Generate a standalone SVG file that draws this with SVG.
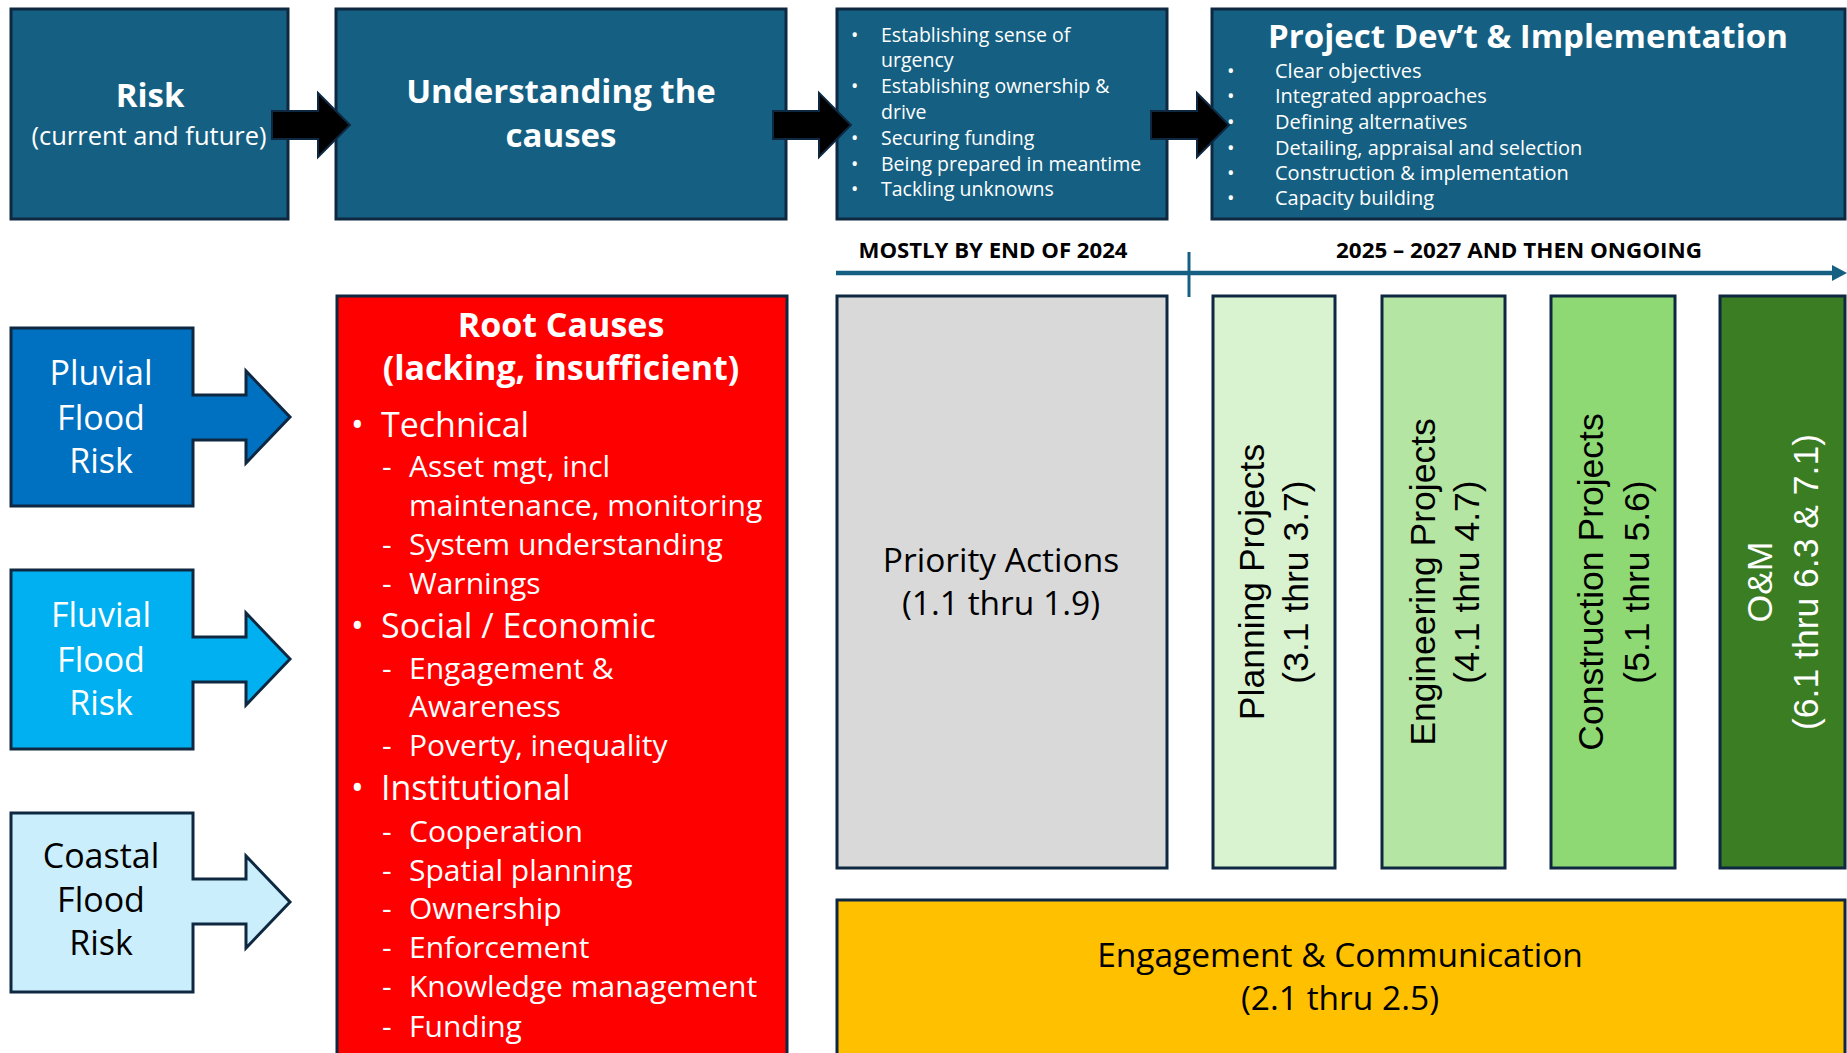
<svg xmlns="http://www.w3.org/2000/svg" width="1847" height="1053" viewBox="0 0 1847 1053">
  <style>
    text { font-family: "Open Sans", "Liberation Sans", sans-serif; }
    .edge { stroke: #0E2841; stroke-width: 3; }
    .top { fill: #156082; }
    .w { fill: #ffffff; }
    .k { fill: #000000; }
    .b { font-weight: 700; }
    .mid { text-anchor: middle; }
    .s19 { font-size: 19.5px; }
    .s20 { font-size: 20px; }
    .s30 { font-size: 30px; }
    .s33 { font-size: 33.5px; }
    .s34 { font-size: 34px; }
    .col { font-family: "Liberation Sans", Arial, sans-serif; font-size: 35.5px; text-anchor: middle; }
    .flow { fill: #000000; stroke: #0E2841; stroke-width: 2; }
    .axis { stroke: #156082; fill: none; }
  </style>
  <defs>
    <marker id="axis-head" markerUnits="userSpaceOnUse" markerWidth="16" markerHeight="18" refX="1" refY="9" orient="auto">
      <path d="M0,1 L15,9 L0,17 Z" fill="#156082"/>
    </marker>
  </defs>

  <rect width="1847" height="1053" fill="#ffffff"/>

  <!-- top process row -->
  <g id="risk">
    <rect class="top edge" x="11" y="9" width="277" height="210"/>
    <text class="w b mid" x="150" y="107" font-size="33">Risk</text>
    <text class="w mid" x="149" y="145" font-size="25.5">(current and future)</text>
  </g>

  <g id="understanding">
    <rect class="top edge" x="336" y="9" width="450" height="210"/>
    <text class="w b mid" x="561" y="103" font-size="33">Understanding the</text>
    <text class="w b mid" x="561" y="147" font-size="33">causes</text>
  </g>

  <g id="drivers" class="w s19">
    <rect class="top edge" x="837" y="9" width="330" height="210"/>
    <text x="851" y="42">•</text><text x="881" y="42">Establishing sense of</text>
    <text x="881" y="67">urgency</text>
    <text x="851" y="93">•</text><text x="881" y="93">Establishing ownership &amp;</text>
    <text x="881" y="119">drive</text>
    <text x="851" y="145">•</text><text x="881" y="145">Securing funding</text>
    <text x="851" y="171">•</text><text x="881" y="171">Being prepared in meantime</text>
    <text x="851" y="196">•</text><text x="881" y="196">Tackling unknowns</text>
  </g>

  <g id="project-dev" class="w">
    <rect class="top edge" x="1212" y="9" width="633" height="210"/>
    <text class="b mid" x="1528" y="48" font-size="33">Project Dev’t &amp; Implementation</text>
    <g class="s20">
      <text x="1227" y="78">•</text><text x="1275" y="78">Clear objectives</text>
      <text x="1227" y="103">•</text><text x="1275" y="103">Integrated approaches</text>
      <text x="1227" y="129">•</text><text x="1275" y="129">Defining alternatives</text>
      <text x="1227" y="155">•</text><text x="1275" y="155">Detailing, appraisal and selection</text>
      <text x="1227" y="180">•</text><text x="1275" y="180">Construction &amp; implementation</text>
      <text x="1227" y="205">•</text><text x="1275" y="205">Capacity building</text>
    </g>
  </g>

  <!-- flood risk sources -->
  <g id="pluvial">
    <path class="edge" fill="#0070C0" d="M11,328 H193 V395 H246 V371 L290,417 L246,463 V440 H193 V506 H11 Z"/>
    <text class="w mid s34" x="101" y="385">Pluvial</text>
    <text class="w mid s34" x="101" y="430">Flood</text>
    <text class="w mid s34" x="101" y="473">Risk</text>
  </g>

  <g id="fluvial">
    <path class="edge" fill="#00B0F0" d="M11,570 H193 V637 H246 V613 L290,659 L246,705 V682 H193 V749 H11 Z"/>
    <text class="w mid s34" x="101" y="627">Fluvial</text>
    <text class="w mid s34" x="101" y="672">Flood</text>
    <text class="w mid s34" x="101" y="715">Risk</text>
  </g>

  <g id="coastal">
    <path class="edge" fill="#CAEEFB" d="M11,813 H193 V879 H246 V856 L290,902 L246,948 V924 H193 V992 H11 Z"/>
    <text class="k mid s34" x="101" y="868">Coastal</text>
    <text class="k mid s34" x="101" y="912">Flood</text>
    <text class="k mid s34" x="101" y="955">Risk</text>
  </g>

  <!-- root causes list -->
  <g id="root-causes" class="w">
    <rect class="edge" fill="#FF0000" x="337" y="296" width="450" height="780"/>
    <text class="b mid s34" x="561" y="337">Root Causes</text>
    <text class="b mid s34" x="561" y="380">(lacking, insufficient)</text>
    <g class="s34">
      <text x="351" y="437">•</text><text x="381" y="437">Technical</text>
      <text x="351" y="638">•</text><text x="381" y="638">Social / Economic</text>
      <text x="351" y="800">•</text><text x="381" y="800">Institutional</text>
    </g>
    <g class="s30">
      <text x="382" y="477">-</text><text x="409" y="477">Asset mgt, incl</text>
      <text x="409" y="516">maintenance,  monitoring</text>
      <text x="382" y="555">-</text><text x="409" y="555">System understanding</text>
      <text x="382" y="594">-</text><text x="409" y="594">Warnings</text>
      <text x="382" y="679">-</text><text x="409" y="679">Engagement &amp;</text>
      <text x="409" y="717">Awareness</text>
      <text x="382" y="756">-</text><text x="409" y="756">Poverty, inequality</text>
      <text x="382" y="842">-</text><text x="409" y="842">Cooperation</text>
      <text x="382" y="881">-</text><text x="409" y="881">Spatial planning</text>
      <text x="382" y="919">-</text><text x="409" y="919">Ownership</text>
      <text x="382" y="958">-</text><text x="409" y="958">Enforcement</text>
      <text x="382" y="997">-</text><text x="409" y="997">Knowledge management</text>
      <text x="382" y="1037">-</text><text x="409" y="1037">Funding</text>
    </g>
  </g>

  <!-- timeline -->
  <g id="timeline">
    <line class="axis" x1="836" y1="273" x2="1833" y2="273" stroke-width="4.5" marker-end="url(#axis-head)"/>
    <line class="axis" x1="1189" y1="252" x2="1189" y2="297" stroke-width="3"/>
    <text class="k b mid" x="993" y="258" font-size="21" textLength="269" lengthAdjust="spacingAndGlyphs">MOSTLY BY END OF 2024</text>
    <text class="k b mid" x="1519" y="258" font-size="21" textLength="366" lengthAdjust="spacingAndGlyphs">2025 – 2027 AND THEN ONGOING</text>
  </g>

  <!-- work streams -->
  <g id="priority">
    <rect class="edge" fill="#D9D9D9" x="837" y="296" width="330" height="572"/>
    <text class="k mid s33" x="1001" y="572">Priority Actions</text>
    <text class="k mid s33" x="1001" y="615">(1.1 thru 1.9)</text>
  </g>

  <g id="planning">
    <rect class="edge" fill="#D9F2D0" x="1213" y="296" width="122" height="572"/>
    <g transform="translate(1274,582) rotate(-90)">
      <text class="col k" x="0" y="-10">Planning Projects</text>
      <text class="col k" x="0" y="34">(3.1 thru 3.7)</text>
    </g>
  </g>

  <g id="engineering">
    <rect class="edge" fill="#B4E5A2" x="1382" y="296" width="123" height="572"/>
    <g transform="translate(1443,582) rotate(-90)">
      <text class="col k" x="0" y="-8">Engineering Projects</text>
      <text class="col k" x="0" y="36">(4.1 thru 4.7)</text>
    </g>
  </g>

  <g id="construction">
    <rect class="edge" fill="#8ED973" x="1551" y="296" width="124" height="572"/>
    <g transform="translate(1613,582) rotate(-90)">
      <text class="col k" x="0" y="-10">Construction Projects</text>
      <text class="col k" x="0" y="36">(5.1 thru 5.6)</text>
    </g>
  </g>

  <g id="om">
    <rect class="edge" fill="#3B7D23" x="1720" y="296" width="125" height="572"/>
    <g transform="translate(1782,582) rotate(-90)">
      <text class="col w" x="0" y="-10">O&amp;M</text>
      <text class="col w" x="0" y="36">(6.1 thru 6.3 &amp; 7.1)</text>
    </g>
  </g>

  <g id="engagement">
    <rect class="edge" fill="#FFC000" x="837" y="900" width="1008" height="170"/>
    <text class="k mid s33" x="1340" y="967">Engagement &amp; Communication</text>
    <text class="k mid s33" x="1340" y="1010">(2.1 thru 2.5)</text>
  </g>

  <!-- flow arrows between the top stages -->
  <g id="connectors">
    <path class="flow" d="M272,111 H318 V93 L350,125 L318,157 V139 H272 Z"/>
    <path class="flow" d="M773,111 H819 V93 L851,125 L819,157 V139 H773 Z"/>
    <path class="flow" d="M1151,111 H1197 V93 L1229,125 L1197,157 V139 H1151 Z"/>
  </g>
</svg>
